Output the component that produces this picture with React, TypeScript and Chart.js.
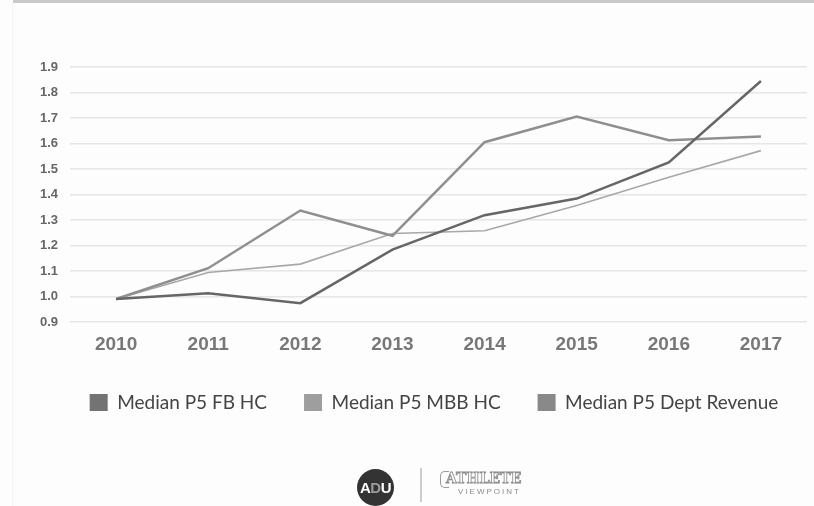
import React, { useEffect, useRef } from "react";
import { Chart, registerables } from "chart.js";

Chart.register(...registerables);

const years = ["2010", "2011", "2012", "2013", "2014", "2015", "2016", "2017"];
const fbHC = [0.99, 1.013, 0.974, 1.184, 1.319, 1.384, 1.526, 1.845];
const mbbHC = [0.99, 1.111, 1.337, 1.238, 1.605, 1.706, 1.613, 1.627];
const deptRevenue = [0.99, 1.094, 1.127, 1.247, 1.258, 1.357, 1.468, 1.572];
const seriesNames = ["Median P5 FB HC", "Median P5 MBB HC", "Median P5 Dept Revenue"];
const yMin = 0.9;
const yMax = 1.9;
const yStep = 0.1;

const legendShift = {
  id: "legendShift",
  afterLayout(chart: any) {
    const lg = chart.legend;
    if (lg) {
      lg.left += 15.5;
      lg.right += 15.5;
    }
  },
};

export default function App() {
  const canvasRef = useRef<HTMLCanvasElement | null>(null);

  useEffect(() => {
    const canvas = canvasRef.current;
    if (!canvas) return;
    const chart = new Chart(canvas, {
      type: "line",
      data: {
        labels: years,
        datasets: [
          {
            label: seriesNames[0],
            data: fbHC,
            borderColor: "#666666",
            backgroundColor: "#737373",
            borderWidth: 2.5,
            pointRadius: 0,
            tension: 0,
          },
          {
            label: seriesNames[1],
            data: mbbHC,
            borderColor: "#8f8f8f",
            backgroundColor: "#9e9e9e",
            borderWidth: 2.5,
            pointRadius: 0,
            tension: 0,
          },
          {
            label: seriesNames[2],
            data: deptRevenue,
            borderColor: "#a8a8a8",
            backgroundColor: "#898989",
            borderWidth: 1.6,
            pointRadius: 0,
            tension: 0,
          },
        ],
      },
      plugins: [legendShift],
      options: {
        responsive: false,
        animation: false,
        layout: { padding: { left: 30, right: 7, top: 67, bottom: 84 } },
        plugins: {
          tooltip: { enabled: false },
          legend: {
            position: "bottom",
            align: "center",
            labels: {
              boxWidth: 18,
              boxHeight: 17,
              padding: 37,
              color: "#444444",
              font: { family: "Lato, 'Open Sans', sans-serif", size: 19 },
              generateLabels: (c: any) => {
                const items = Chart.defaults.plugins.legend.labels.generateLabels(c);
                return items.map((it: any) => ({ ...it, strokeStyle: it.fillStyle, lineWidth: 0 }));
              },
            },
          },
        },
        scales: {
          x: {
            offset: true,
            grid: { display: false, drawTicks: false },
            border: { display: false },
            ticks: {
              padding: 11,
              color: "#787878",
              font: { family: "'Liberation Sans', Arial, sans-serif", size: 19, weight: "bold" },
            },
            afterFit: (s: any) => {
              s.height = 34;
            },
          },
          y: {
            min: yMin,
            max: yMax,
            grid: { color: "#e6e6e6", lineWidth: 1.5, drawTicks: false },
            border: { display: false },
            ticks: {
              stepSize: yStep,
              padding: 12,
              color: "#666666",
              font: { family: "'Liberation Sans', Arial, sans-serif", size: 13, weight: "bold" },
              callback: (v: any) => Number(v).toFixed(1),
            },
            afterFit: (s: any) => {
              s.width = 40;
            },
          },
        },
      },
    });
    return () => chart.destroy();
  }, []);

  return (
    <div
      style={{
        position: "fixed",
        left: 0,
        top: 0,
        width: 814,
        height: 506,
        background: "#fdfdfd",
        overflow: "hidden",
      }}
    >
      <div style={{ position: "absolute", left: 13, top: 0, width: 801, height: 3, background: "#c9c9c9" }} />
      <div style={{ position: "absolute", left: 12, top: 3, width: 1, height: 503, background: "#f4f4f4" }} />
      <canvas ref={canvasRef} width={814} height={506} style={{ position: "absolute", left: 0, top: 0 }} />
      <div
        style={{
          position: "absolute",
          left: 357,
          top: 469,
          width: 37,
          height: 37,
          borderRadius: "50%",
          background: "#333333",
          color: "#ffffff",
          fontFamily: "'Liberation Sans', Arial, sans-serif",
          fontWeight: "bold",
          fontSize: 15,
          lineHeight: "37px",
          textAlign: "center",
          letterSpacing: -0.5,
        }}
      >
        A<span style={{ color: "#9a9a9a" }}>D</span>U
      </div>
      <div style={{ position: "absolute", left: 420, top: 468, width: 1.5, height: 34, background: "#cccccc" }} />
      <div
        style={{
          position: "absolute",
          left: 440,
          top: 471,
          width: 8,
          height: 15,
          border: "1.5px solid #9a9a9a",
          borderRight: "none",
          borderRadius: "5px 0 0 5px",
        }}
      />
      <div
        style={{
          position: "absolute",
          left: 446,
          top: 470,
          fontFamily: "'DejaVu Serif', serif",
          fontSize: 14,
          fontWeight: "bold",
          color: "transparent",
          WebkitTextStroke: "0.8px #8c8c8c",
          lineHeight: "17px",
        }}
      >
        ATHLETE
      </div>
      <div
        style={{
          position: "absolute",
          left: 458,
          top: 487,
          fontFamily: "'Liberation Sans', Arial, sans-serif",
          fontSize: 8,
          color: "#8c8c8c",
          letterSpacing: 2,
          lineHeight: "10px",
        }}
      >
        VIEWPOINT
      </div>
    </div>
  );
}
